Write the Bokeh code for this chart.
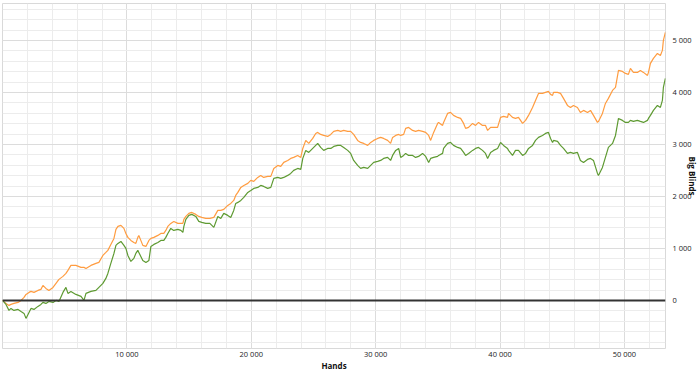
from bokeh.plotting import figure
from bokeh.models import Range1d, FixedTicker, CustomJSTickFormatter, Span
from bokeh.embed import file_html
from bokeh.resources import INLINE

hands = [0,280,520,680,920,1250,1490,1730,1890,2130,
2290,2530,2850,3090,3250,3490,3730,4060,4300,4540,
4860,5100,5260,5500,5900,6310,6550,6710,7110,7510,
7750,8070,8310,8470,8710,8960,9120,9280,9520,9760,
9920,10080,10320,10560,10720,10880,10960,11120,11280,11530,
11770,11930,12170,12490,12730,12970,13130,13290,13530,13770,
14100,14340,14500,14580,14740,14980,15220,15540,15780,16020,
16340,16670,16990,17310,17550,17790,18110,18350,18590,18750,
18920,19160,19400,19720,19960,20200,20520,20760,21000,21320,
21570,21810,22130,22370,22610,22930,23170,23410,23730,23980,
24140,24380,24620,24940,25180,25340,25580,25820,26140,26390,
26630,26950,27190,27430,27750,27990,28230,28550,28790,29040,
29360,29600,29840,30160,30400,30640,30960,31200,31360,31610,
31850,32010,32250,32410,32650,32970,33210,33450,33770,34020,
34260,34420,34660,34980,35060,35380,35460,35780,36020,36260,
36590,36830,37070,37230,37470,37790,38030,38270,38590,38830,
39000,39240,39480,39800,40040,40280,40600,40680,41000,41240,
41480,41810,42050,42290,42610,42850,43090,43410,43650,43890,
44060,44220,44300,44620,44860,45100,45420,45660,45900,46220,
46460,46710,47030,47270,47510,47830,47910,48230,48470,48710,
49040,49280,49520,49840,50080,50320,50480,50720,51040,51280,
51530,51850,51930,52090,52330,52650,52890,53050,53130,53290]

orange_bb = [0,-58,-96,-77,-58,-38,0,58,115,154,
173,154,192,212,288,231,192,250,327,404,
462,519,577,673,673,635,635,615,673,712,
731,865,923,962,1077,1192,1365,1423,1442,1385,
1288,1212,1154,1115,1096,1212,1250,1154,1058,1038,
1154,1192,1212,1250,1288,1288,1346,1423,1481,1519,
1481,1481,1481,1558,1615,1673,1692,1654,1615,1596,
1577,1577,1596,1731,1731,1750,1827,1865,1923,2019,
2077,2173,2211,2250,2308,2288,2365,2404,2365,2385,
2385,2538,2596,2577,2654,2692,2731,2750,2788,2750,
2923,3077,3019,3115,3211,3231,3192,3173,3154,3192,
3250,3269,3250,3269,3250,3250,3192,3077,3038,3019,
2981,3038,3077,3115,3135,3115,3077,3019,3135,3173,
3192,3173,3192,3308,3327,3269,3250,3269,3250,3231,
3173,3077,3231,3404,3423,3365,3423,3596,3615,3558,
3519,3500,3404,3308,3327,3404,3365,3423,3365,3365,
3269,3327,3327,3327,3519,3538,3519,3596,3519,3500,
3519,3404,3462,3558,3711,3846,3981,3981,4000,4019,
3962,3942,4000,4000,3981,3885,3750,3711,3750,3711,
3615,3654,3615,3654,3558,3423,3442,3596,3788,3885,
4038,4096,4423,4404,4365,4346,4462,4385,4385,4423,
4385,4327,4385,4558,4654,4750,4711,4808,5000,5154]

green_bb = [0,-77,-192,-154,-192,-173,-212,-250,-346,-231,
-154,-173,-115,-77,-38,-58,-19,-38,0,-19,
154,250,135,173,115,77,0,135,173,192,
250,327,423,519,712,904,1058,1096,1135,1058,
1000,865,750,808,904,962,923,846,769,731,
769,1038,1077,1115,1154,1154,1212,1288,1385,1346,
1365,1346,1308,1423,1558,1635,1654,1615,1519,1500,
1481,1481,1404,1615,1577,1673,1635,1596,1731,1865,
1885,1923,1981,2077,2115,2154,2173,2211,2192,2154,
2173,2346,2365,2346,2365,2404,2442,2500,2538,2519,
2731,2885,2846,2923,2981,3019,2942,2885,2923,2923,
2961,2981,2981,2942,2885,2827,2692,2596,2538,2558,
2538,2596,2654,2673,2692,2731,2750,2692,2788,2885,
2923,2750,2788,2827,2788,2788,2750,2769,2827,2769,
2654,2731,2750,2769,2788,2827,2923,3019,3038,2981,
2942,2923,2846,2788,2827,2885,2923,2942,2885,2827,
2731,2846,2885,2923,3038,2981,2923,2885,2788,2885,
2885,2788,2827,2923,2981,3077,3135,3173,3211,3231,
3115,3038,3077,3058,2981,2923,2827,2846,2827,2846,
2692,2654,2711,2731,2692,2442,2404,2558,2750,2942,
3019,3173,3500,3462,3423,3423,3462,3442,3462,3442,
3423,3462,3500,3558,3654,3750,3711,3846,4096,4269]

x_major = [10000, 20000, 30000, 40000, 50000]
x_minor = list(range(0, 54001, 2000))
y_major = [0, 1000, 2000, 3000, 4000, 5000]
y_minor = list(range(-800, 5801, 200))
x_title = "Hands"
y_title = "Big Blinds"

p = figure(width=700, height=377, output_backend="svg", toolbar_location=None,
           x_range=Range1d(0, 53300), y_range=Range1d(-925, 5710),
           y_axis_location="right",
           min_border_left=2, min_border_top=3, min_border_right=35, min_border_bottom=29)
p.background_fill_color = "white"
p.border_fill_color = "white"
p.outline_line_color = "#d9d9d9"

fmt = CustomJSTickFormatter(code="return tick.toFixed(0).replace(/\\B(?=(\\d{3})+(?!\\d))/g, ' ');")

p.xaxis.ticker = FixedTicker(ticks=x_major, minor_ticks=x_minor)
p.yaxis.ticker = FixedTicker(ticks=y_major, minor_ticks=y_minor)
for ax in (p.xaxis[0], p.yaxis[0]):
    ax.formatter = fmt
    ax.axis_line_color = None
    ax.major_tick_out = 0
    ax.major_tick_in = 0
    ax.minor_tick_out = 0
    ax.minor_tick_in = 0
    ax.major_label_text_font = "Open Sans"
    ax.major_label_text_font_size = "7.5px"
    ax.major_label_text_color = "#222222"
    ax.axis_label_text_font = "Open Sans"
    ax.axis_label_text_font_size = "8px"
    ax.axis_label_text_font_style = "bold"
    ax.axis_label_text_color = "#111111"

p.xaxis.axis_label = x_title
p.xaxis.major_label_standoff = 0
p.xaxis.axis_label_standoff = -2
p.yaxis.axis_label = y_title
p.yaxis.major_label_standoff = 7
p.yaxis.axis_label_standoff = -8

for g in (p.xgrid[0], p.ygrid[0]):
    g.grid_line_color = "#dcdcdc"
    g.grid_line_width = 1
    g.minor_grid_line_color = "#ececec"
    g.minor_grid_line_width = 1

p.add_layout(Span(location=0, dimension="width", line_color="#333333", line_width=2))

p.line(hands, orange_bb, line_color="#ff9c40", line_width=1.2)
p.line(hands, green_bb, line_color="#5e9a32", line_width=1.2)

open("out.html", "w").write(file_html(p, INLINE))
